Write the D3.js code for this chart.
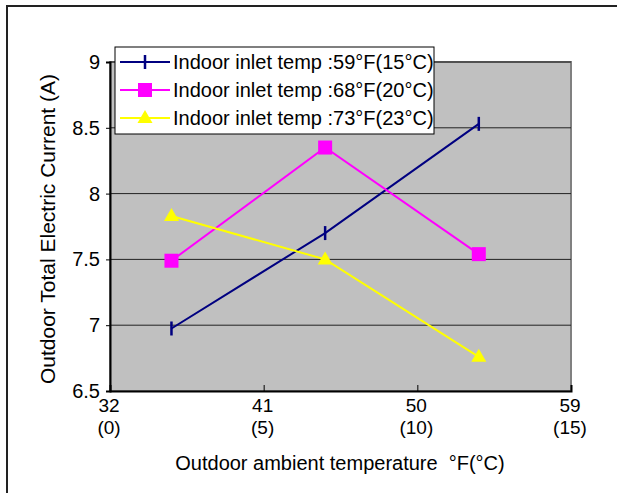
<!DOCTYPE html>
<html>
<head>
<meta charset="utf-8">
<script src="https://cdn.jsdelivr.net/npm/d3@7"></script>
<style>
  body { margin: 0; background: #fff; }
  text { font-family: "Liberation Sans", Arial, sans-serif; fill: #000; }
</style>
</head>
<body>
<svg id="chart" width="617" height="493"></svg>
<script>
// outdoor temp in degC for each point
const tempC = [2, 7, 12];
const series15 = [6.975, 7.70, 8.53];
const series20 = [7.49, 8.35, 7.54];
const series23 = [7.83, 7.50, 6.76];
const seriesNames = [
  'Indoor inlet temp :59\u00b0F(15\u00b0C)',
  'Indoor inlet temp :68\u00b0F(20\u00b0C)',
  'Indoor inlet temp :73\u00b0F(23\u00b0C)'
];
const xTicksF = [32, 41, 50, 59];
const xTicksC = [0, 5, 10, 15];
const yTicks = [6.5, 7, 7.5, 8, 8.5, 9];

const fs = 20;
const svg = d3.select('#chart');

// outer frame
svg.append('rect')
  .attr('x', 7).attr('y', 6)
  .attr('width', 640).attr('height', 520)
  .attr('fill', 'none').attr('stroke', '#222').attr('stroke-width', 2);

const pLeft = 110, pRight = 571, pTop = 62, pBottom = 391;

const x = d3.scaleLinear().domain([32, 59]).range([pLeft, pRight]);
const y = d3.scaleLinear().domain([6.5, 9]).range([pBottom, pTop]);
const toF = function (c) { return c * 9 / 5 + 32; };

// plot area
svg.append('rect')
  .attr('x', pLeft).attr('y', pTop)
  .attr('width', pRight - pLeft).attr('height', pBottom - pTop)
  .attr('fill', '#c0c0c0').attr('stroke', '#808080').attr('stroke-width', 2);

// gridlines
svg.append('g')
  .selectAll('line')
  .data(yTicks.slice(1))
  .enter().append('line')
  .attr('x1', pLeft).attr('x2', pRight)
  .attr('y1', function (d) { return y(d); })
  .attr('y2', function (d) { return y(d); })
  .attr('stroke', '#222').attr('stroke-width', 1);

// y axis
const yAxis = svg.append('g')
  .attr('transform', 'translate(' + pLeft + ',0)')
  .call(d3.axisLeft(y).tickValues(yTicks).tickSize(4).tickPadding(6)
    .tickFormat(function (d) { return d; }));
yAxis.select('.domain').attr('stroke', '#000').attr('stroke-width', 2);
yAxis.selectAll('.tick line').attr('stroke', '#000');
yAxis.selectAll('text')
  .attr('font-size', fs).attr('font-family', '"Liberation Sans", Arial, sans-serif');

// x axis
const xAxis = svg.append('g')
  .attr('transform', 'translate(0,' + pBottom + ')')
  .call(d3.axisBottom(x).tickValues(xTicksF).tickSize(-6).tickFormat(''));
xAxis.select('.domain').attr('stroke', '#000').attr('stroke-width', 2);
xAxis.selectAll('.tick line').attr('stroke', '#000');

// two-line x labels (degF over degC)
const xl = svg.append('g');
xl.selectAll('text.f')
  .data(xTicksF)
  .enter().append('text')
  .attr('class', 'f')
  .attr('text-anchor', 'middle')
  .attr('font-size', 19)
  .attr('x', function (d) { return x(d) - 1; })
  .attr('y', 412)
  .text(function (d) { return d; });
xl.selectAll('text.c')
  .data(xTicksC)
  .enter().append('text')
  .attr('class', 'c')
  .attr('text-anchor', 'middle')
  .attr('font-size', 19)
  .attr('x', function (d, i) { return x(xTicksF[i]) - 1; })
  .attr('y', 433.5)
  .text(function (d) { return '(' + d + ')'; });

// axis titles
svg.append('text')
  .attr('x', 340).attr('y', 470)
  .attr('text-anchor', 'middle')
  .attr('font-size', fs)
  .text('Outdoor ambient temperature \u00a0\u00b0F(\u00b0C)');

svg.append('text')
  .attr('transform', 'translate(55,229) rotate(-90)')
  .attr('text-anchor', 'middle')
  .attr('font-size', 21)
  .text('Outdoor Total Electric Current (A)');

// series
const series = [
  { values: series15, color: '#000080', marker: 'bar' },
  { values: series20, color: '#ff00ff', marker: 'square' },
  { values: series23, color: '#ffff00', marker: 'triangle' }
];

const line = d3.line()
  .x(function (d, i) { return x(toF(tempC[i])); })
  .y(function (d) { return y(d); });

function drawMarker (g, type, color, cx, cy) {
  if (type === 'bar') {
    g.append('line')
      .attr('x1', cx).attr('x2', cx)
      .attr('y1', cy - 7).attr('y2', cy + 7)
      .attr('stroke', color).attr('stroke-width', 2.5);
  } else if (type === 'square') {
    g.append('rect')
      .attr('x', cx - 7).attr('y', cy - 7)
      .attr('width', 14).attr('height', 14)
      .attr('fill', color);
  } else {
    g.append('path')
      .attr('d', 'M' + cx + ',' + (cy - 8) + 'L' + (cx + 7.5) + ',' + (cy + 5) +
        'L' + (cx - 7.5) + ',' + (cy + 5) + 'Z')
      .attr('fill', color);
  }
}

series.forEach(function (s) {
  const g = svg.append('g');
  g.append('path')
    .datum(s.values)
    .attr('d', line)
    .attr('fill', 'none')
    .attr('stroke', s.color)
    .attr('stroke-width', 2);
  s.values.forEach(function (v, i) {
    drawMarker(g, s.marker, s.color, x(toF(tempC[i])), y(v));
  });
});

// legend
const lg = svg.append('g');
lg.append('rect')
  .attr('x', 115).attr('y', 47)
  .attr('width', 319).attr('height', 87)
  .attr('fill', '#fff').attr('stroke', '#000').attr('stroke-width', 1);

series.forEach(function (s, i) {
  const ly = 62 + i * 28;
  lg.append('line')
    .attr('x1', 120).attr('x2', 170)
    .attr('y1', ly).attr('y2', ly)
    .attr('stroke', s.color).attr('stroke-width', 2);
  drawMarker(lg, s.marker, s.color, 145, ly);
  lg.append('text')
    .attr('x', 173).attr('y', ly + 7)
    .attr('font-size', fs)
    .text(seriesNames[i]);
});
</script>
</body>
</html>
